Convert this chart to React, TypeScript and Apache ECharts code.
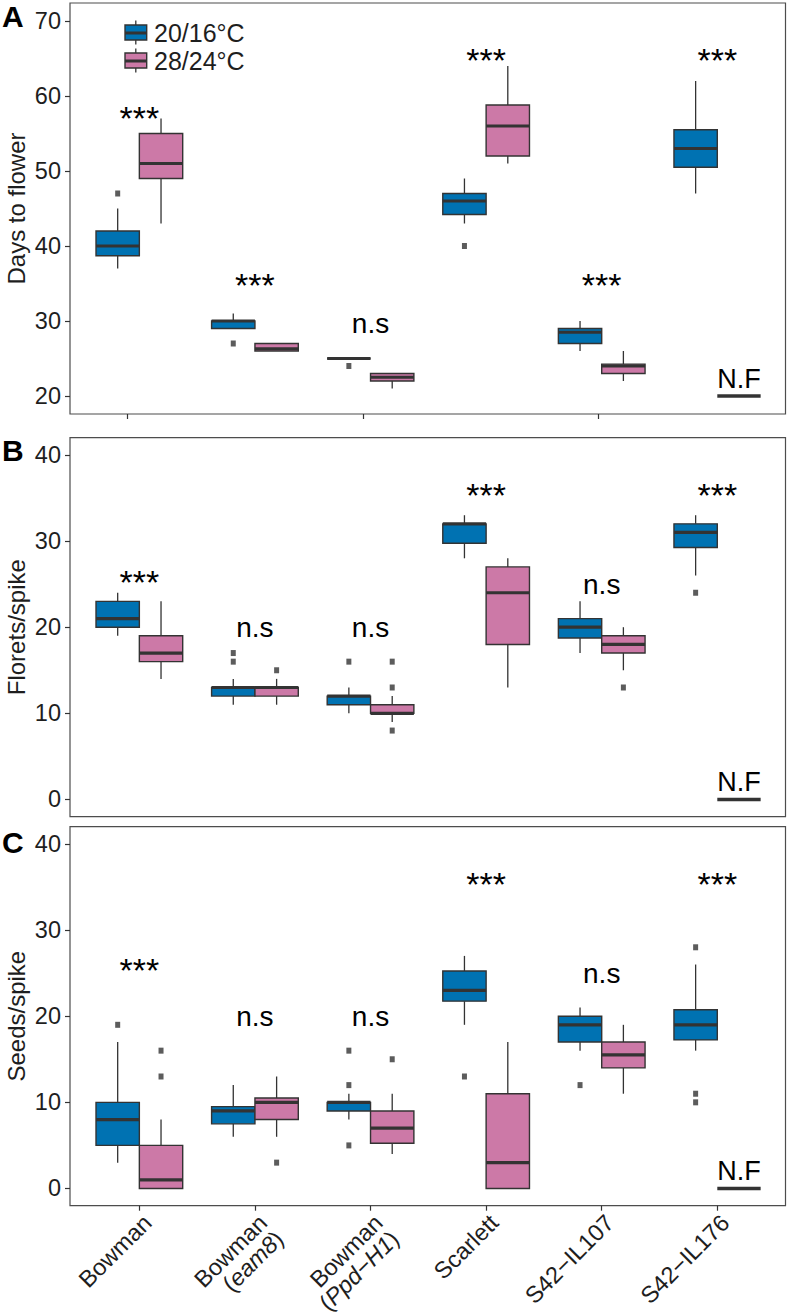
import React, { useEffect, useRef } from "react";
import * as echarts from "echarts";

const categories = ["Bowman", "Bowman (eam8)", "Bowman (Ppd−H1)", "Scarlett", "S42−IL107", "S42−IL176"];
const treatments = ["20/16°C", "28/24°C"];
const treatmentColors = ["#0072B2", "#CC79A7"];

// five-number summaries: [lower whisker, Q1, median, Q3, upper whisker]; null = not flowered (N.F)
const daysCool = [[37, 38.7, 40, 42, 45], [29, 29, 30, 30, 31], [25, 25, 25, 25, 25], [43, 44.2, 46, 47, 49], [26, 27, 28.5, 29, 30], [47, 50.5, 53, 55.5, 62]];
const daysWarm = [[43, 49, 51, 55, 57], [26, 26, 26.3, 27, 27], [21, 22, 22.5, 23, 23], [51, 52, 56, 58.8, 64], [22, 23, 24, 24.25, 26], null];
const daysCoolOutliers = [[0, 47], [1, 27], [2, 24], [3, 40]];
const daysWarmOutliers: number[][] = [];
const daysSignif = ["***", "***", "n.s", "***", "***", "***"];
const daysSignifY = [57.2, 35, 29.7, 65, 35, 65];
const daysNF = 20;
const daysTicks = [20, 30, 40, 50, 60, 70];

const floretsCool = [[19, 20, 21, 23, 24], [11, 12, 13, 13, 14], [10, 11, 12, 12, 13], [28, 29.75, 32, 32, 33], [17, 18.75, 20, 21, 23], [26, 29.25, 31, 32, 33]];
const floretsWarm = [[14, 16, 17, 19, 23], [11, 12, 13, 13, 14], [9, 10, 10, 11, 12], [13, 18, 24, 27, 28], [15, 17, 18, 19, 20], null];
const floretsCoolOutliers = [[1, 17], [1, 16], [2, 16], [5, 24]];
const floretsWarmOutliers = [[1, 15], [2, 16], [2, 13], [2, 8], [4, 13]];
const floretsSignif = ["***", "n.s", "n.s", "***", "n.s", "***"];
const floretsSignifY = [25.4, 20, 20, 35.5, 25, 35.5];
const floretsNF = 0;

const seedsCool = [[3, 5, 8, 10, 17], [6, 7.5, 9, 9.5, 12], [8, 9, 10, 10, 11], [19, 21.75, 23, 25.25, 27], [16, 17, 19, 20, 21], [16, 17.25, 19, 20.75, 26]];
const seedsWarm = [[0, 0, 1, 5, 8], [6, 8, 10, 10.5, 13], [4, 5.25, 7, 9, 11], [0, 0, 3, 11, 17], [11, 14, 15.5, 17, 19], null];
const seedsCoolOutliers = [[0, 19], [2, 16], [2, 12], [2, 5], [3, 13], [4, 12], [5, 28], [5, 11], [5, 10]];
const seedsWarmOutliers = [[0, 16], [0, 13], [1, 3], [2, 15]];
const seedsSignif = ["***", "n.s", "n.s", "***", "n.s", "***"];
const seedsSignifY = [25.5, 20, 20, 35.5, 25, 35.5];
const seedsNF = 0;
const countTicks = [0, 10, 20, 30, 40];

const panelLetters = ["A", "B", "C"];
const panelTitles = ["Days to flower", "Florets/spike", "Seeds/spike"];

const FONT = '"Liberation Sans", Arial, Helvetica, sans-serif';
const DARK = "#333333";
const TEXT = "#1e1e1e";
const BOX_W = 0.375;
const X_MIN = 0.4;
const X_MAX = 6.59;
const GRID_LEFT = 70;
const GRID_RIGHT = 3.5;

function boxSeries(data: (number[] | null)[], gi: number, offset: number, color: string) {
  const items: number[][] = [];
  data.forEach((d, i) => {
    if (d) items.push([i + 1 + offset, ...d]);
  });
  return {
    type: "custom",
    xAxisIndex: gi,
    yAxisIndex: gi,
    data: items,
    encode: { x: 0, y: [1, 2, 3, 4, 5] },
    z: 3,
    renderItem: (_p: any, api: any) => {
      const x = api.value(0);
      const low = api.value(1), q1 = api.value(2), med = api.value(3), q3 = api.value(4), high = api.value(5);
      const w = api.size([BOX_W, 0])[0];
      const cx = api.coord([x, med])[0];
      const yLow = api.coord([x, low])[1];
      const yQ1 = api.coord([x, q1])[1];
      const yMed = api.coord([x, med])[1];
      const yQ3 = api.coord([x, q3])[1];
      const yHigh = api.coord([x, high])[1];
      const ls = { stroke: DARK, lineWidth: 1.3 };
      return {
        type: "group",
        children: [
          { type: "line", shape: { x1: cx, y1: yQ3, x2: cx, y2: yHigh }, style: ls },
          { type: "line", shape: { x1: cx, y1: yQ1, x2: cx, y2: yLow }, style: ls },
          { type: "rect", shape: { x: cx - w / 2, y: yQ3, width: w, height: yQ1 - yQ3 }, style: { fill: color, stroke: DARK, lineWidth: 1.4 } },
          { type: "line", shape: { x1: cx - w / 2, y1: yMed, x2: cx + w / 2, y2: yMed }, style: { stroke: DARK, lineWidth: 3.2 } },
        ],
      };
    },
  };
}

function outlierSeries(data: number[][], gi: number, offset: number) {
  return {
    type: "scatter",
    xAxisIndex: gi,
    yAxisIndex: gi,
    data: data.map((d) => [d[0] + 1 + offset, d[1]]),
    symbol: "rect",
    symbolSize: [5, 6],
    itemStyle: { color: DARK },
    z: 4,
  };
}

function signifSeries(labels: string[], ys: number[], gi: number) {
  return {
    type: "custom",
    xAxisIndex: gi,
    yAxisIndex: gi,
    data: ys.map((y, i) => [i + 1, y]),
    z: 5,
    renderItem: (params: any, api: any) => {
      const p = api.coord([api.value(0), api.value(1)]);
      const t = labels[params.dataIndex];
      const star = t.indexOf("*") >= 0;
      return {
        type: "text",
        x: p[0],
        y: p[1] + (star ? 1 : 0),
        style: {
          text: t,
          fill: "#000",
          fontFamily: FONT,
          fontSize: star ? 34 : 28,
          align: "center",
          verticalAlign: "middle",
        },
      };
    },
  };
}

function nfSeries(warm: (number[] | null)[], nfValue: number, gi: number) {
  const items: number[][] = [];
  warm.forEach((d, i) => {
    if (d === null) items.push([i + 1 + BOX_W / 2, nfValue]);
  });
  return {
    type: "custom",
    xAxisIndex: gi,
    yAxisIndex: gi,
    data: items,
    z: 5,
    renderItem: (_p: any, api: any) => {
      const p = api.coord([api.value(0), api.value(1)]);
      const w = api.size([BOX_W, 0])[0];
      return {
        type: "group",
        children: [
          { type: "line", shape: { x1: p[0] - w / 2, y1: p[1], x2: p[0] + w / 2, y2: p[1] }, style: { stroke: DARK, lineWidth: 3.6 } },
          {
            type: "text",
            x: p[0],
            y: p[1] - 17,
            style: { text: "N.F", fill: "#000", fontFamily: FONT, fontSize: 27, align: "center", verticalAlign: "middle" },
          },
        ],
      };
    },
  };
}

export default function App() {
  const ref = useRef<HTMLDivElement>(null);
  useEffect(() => {
    if (!ref.current) return;
    document.body.style.margin = "0";
    const chart = echarts.init(ref.current, undefined, { renderer: "svg" });

    const panels = [
      { cool: daysCool, warm: daysWarm, co: daysCoolOutliers, wo: daysWarmOutliers, sig: daysSignif, sigY: daysSignifY, nf: daysNF, ticks: daysTicks, min: 17.6, max: 72.4, top: 3, height: 411 },
      { cool: floretsCool, warm: floretsWarm, co: floretsCoolOutliers, wo: floretsWarmOutliers, sig: floretsSignif, sigY: floretsSignifY, nf: floretsNF, ticks: countTicks, min: -2, max: 42, top: 437.7, height: 379 },
      { cool: seedsCool, warm: seedsWarm, co: seedsCoolOutliers, wo: seedsWarmOutliers, sig: seedsSignif, sigY: seedsSignifY, nf: seedsNF, ticks: countTicks, min: -2, max: 42, top: 826.7, height: 379 },
    ];

    const grids: any[] = [];
    const xAxes: any[] = [];
    const yAxes: any[] = [];
    const series: any[] = [];
    const graphics: any[] = [];

    panels.forEach((p, gi) => {
      grids.push({
        left: GRID_LEFT,
        right: GRID_RIGHT,
        top: p.top,
        height: p.height,
        show: true,
        borderColor: "#4d4d4d",
        borderWidth: 1.2,
        backgroundColor: "transparent",
        containLabel: false,
        outerBoundsMode: "none",
      });
      xAxes.push({ gridIndex: gi, type: "value", min: X_MIN, max: X_MAX, show: false });
      yAxes.push({
        gridIndex: gi,
        type: "value",
        min: p.min,
        max: p.max,
        axisLine: { show: false },
        splitLine: { show: false },
        axisTick: { show: true, length: 5, lineStyle: { color: DARK, width: 1.2 }, customValues: p.ticks },
        axisLabel: { fontFamily: FONT, fontSize: 23.5, color: TEXT, margin: 9, customValues: p.ticks },
      });
      // y-axis title, rotated, centred on the panel
      graphics.push({
        type: "text",
        x: 16,
        y: p.top + p.height / 2,
        rotation: Math.PI / 2,
        style: { text: panelTitles[gi], fill: TEXT, font: `24px ${FONT}`, align: "center", verticalAlign: "middle" },
      });
      const off = BOX_W / 2;
      series.push(boxSeries(p.cool, gi, -off, treatmentColors[0]));
      series.push(boxSeries(p.warm, gi, off, treatmentColors[1]));
      series.push(outlierSeries(p.co, gi, -off));
      series.push(outlierSeries(p.wo, gi, off));
      series.push(signifSeries(p.sig, p.sigY, gi));
      series.push(nfSeries(p.warm, p.nf, gi));
    });

    // grid 3: tick marks under panel A
    grids.push({ left: 68.9, width: 706, top: 3, height: 411, show: false, containLabel: false, outerBoundsMode: "none" });
    xAxes.push({
      gridIndex: 3,
      type: "category",
      data: categories,
      axisLine: { show: false },
      axisTick: { show: true, alignWithLabel: true, length: 5, lineStyle: { color: DARK, width: 1.2 } },
      axisLabel: { show: false },
    });
    yAxes.push({ gridIndex: 3, type: "value", show: false });

    // grid 4: tick marks + labels under panel C
    grids.push({ left: 81.55, width: 693.5, top: 826.7, height: 379, show: false, containLabel: false, outerBoundsMode: "none" });
    xAxes.push({
      gridIndex: 4,
      type: "category",
      data: categories,
      axisLine: { show: false },
      axisTick: { show: true, alignWithLabel: true, length: 5, lineStyle: { color: DARK, width: 1.2 } },
      axisLabel: {
        interval: 0,
        rotate: 45,
        margin: 5,
        fontFamily: FONT,
        fontSize: 23.5,
        color: TEXT,
        align: "right",
        verticalAlign: "top",
        lineHeight: 23,
        formatter: (v: string) => {
          const m = v.match(/^(.*) \((.*)\)$/);
          return m ? `${m[1]}\n({it|${m[2]}})` : v;
        },
        rich: { it: { fontStyle: "italic", fontFamily: FONT, fontSize: 23.5, color: TEXT, lineHeight: 23 } },
      },
    });
    yAxes.push({ gridIndex: 4, type: "value", show: false });

    const letterY = [16, 450, 842];
    panelLetters.forEach((l, i) => {
      graphics.push({
        type: "text",
        x: 2,
        y: letterY[i],
        style: { text: l, fill: "#000", font: `bold 30px ${FONT}`, align: "left", verticalAlign: "middle" },
      });
    });
    // legend (boxplot glyph keys)
    const keyTop = [25, 53];
    treatments.forEach((t, i) => {
      const y0 = keyTop[i];
      graphics.push({ type: "line", shape: { x1: 135.8, y1: y0 - 4.5, x2: 135.8, y2: y0 + 19.5 }, style: { stroke: DARK, lineWidth: 1.3 } });
      graphics.push({ type: "rect", shape: { x: 125, y: y0, width: 21.7, height: 15 }, style: { fill: treatmentColors[i], stroke: DARK, lineWidth: 1.4 } });
      graphics.push({ type: "line", shape: { x1: 125, y1: y0 + 8, x2: 146.7, y2: y0 + 8 }, style: { stroke: DARK, lineWidth: 3 } });
      graphics.push({
        type: "text",
        x: 154,
        y: y0 + 8,
        style: { text: t, fill: TEXT, font: `25px ${FONT}`, align: "left", verticalAlign: "middle" },
      });
    });

    chart.setOption({
      animation: false,
      backgroundColor: "#ffffff",
      grid: grids,
      xAxis: xAxes,
      yAxis: yAxes,
      series,
      graphic: { elements: graphics },
    });
    return () => chart.dispose();
  }, []);
  return <div ref={ref} style={{ width: 789, height: 1316, position: "absolute", left: 0, top: 0 }} />;
}
